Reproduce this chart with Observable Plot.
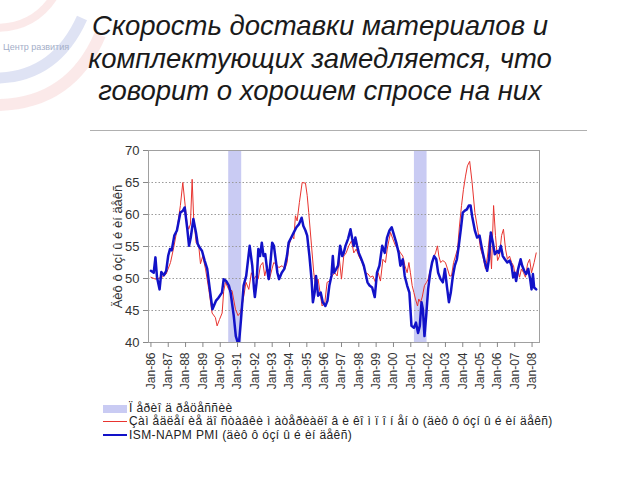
<!DOCTYPE html>
<html><head><meta charset="utf-8">
<script src="https://cdn.jsdelivr.net/npm/d3@7"></script>
<script src="https://cdn.jsdelivr.net/npm/@observablehq/plot@0.6"></script>
<style>
html,body{margin:0;padding:0;background:#fff;}
#page{position:relative;width:640px;height:480px;overflow:hidden;font-family:"Liberation Sans",Arial,sans-serif;}
#title{position:absolute;left:0;top:10px;width:640px;text-align:center;font-style:italic;font-size:27.5px;line-height:32.5px;color:#1a1a1a;}
#rule{position:absolute;left:90px;top:130px;width:497px;height:1px;background:#b0b0b0;}
#chart{position:absolute;left:0;top:135px;}
#legend{position:absolute;left:103px;top:402px;font-size:12px;letter-spacing:0.4px;color:#222;}
.row{height:13.3px;line-height:13.3px;white-space:nowrap;display:flex;align-items:center;}
.sw{width:24px;margin-right:2px;display:inline-block;}
#logo{position:absolute;left:0;top:0;}
</style></head>
<body><div id="page">
<svg id="logo" width="110" height="120" viewBox="0 0 110 120">
  <path d="M-5,28 Q35,28 55,-5" fill="none" stroke="#e87878" stroke-width="8" opacity="0.16"/>
  <path d="M-5,78 Q55,78 82,18" fill="none" stroke="#5e72c8" stroke-width="11" opacity="0.2"/>
  <path d="M-5,105 Q70,105 100,35" fill="none" stroke="#e87878" stroke-width="12" opacity="0.16"/>
  <text x="3" y="50" font-size="9" fill="#a4aec8" font-family="Liberation Sans, Arial">Центр развития</text>
</svg>
<div id="title"><div>Скорость доставки материалов и</div><div>комплектующих замедляется, что</div><div>говорит о хорошем спросе на них</div></div>
<div id="rule"></div>
<div id="chart"></div>
<div id="legend"></div>
</div>
<script>
// ---- data ----
const yTicks = [40, 45, 50, 55, 60, 65, 70];
const xTickYears = d3.range(1986, 2009);
const yLabel = "Äèô ô óçí û é èí äåêñ";
const legendLabels = [
  "Ï åðèî ä ðåöåññèè",
  "Çàì åäëåí èå äî ñòàâêè ì àòåðèàëî â è êî ì ï î í åí ò (äèô ô óçí û é èí äåêñ)",
  "ISM-NAPM PMI  (äèô ô óçí û é èí äåêñ)"
];
const recessionStart = [1990.49, 2001.21];
const recessionEnd = [1991.24, 2001.94];

// ISM-NAPM PMI [year, value]
const pmiSeries = [
[1986.00,51.2],[1986.16,50.9],[1986.26,53.3],[1986.35,50.2],[1986.50,48.3],[1986.60,51.0],[1986.75,50.5],[1986.88,51.2],
[1987.00,53.6],[1987.10,54.6],[1987.20,54.4],[1987.35,56.7],[1987.50,57.5],[1987.70,60.3],[1987.85,60.6],[1987.95,61.1],
[1988.10,57.7],[1988.20,55.1],[1988.30,56.4],[1988.45,59.3],[1988.60,57.2],[1988.70,55.4],[1988.80,54.9],[1988.95,54.3],
[1989.10,52.8],[1989.25,51.5],[1989.40,48.3],[1989.55,45.2],[1989.75,46.5],[1989.90,47.0],
[1990.10,47.8],[1990.20,49.9],[1990.35,49.6],[1990.50,48.9],[1990.60,47.8],[1990.78,44.2],[1990.90,41.0],
[1991.07,39.5],[1991.20,43.6],[1991.35,48.9],[1991.50,50.4],[1991.70,55.1],[1991.85,52.0],[1991.95,48.4],
[1992.00,47.1],[1992.10,49.4],[1992.20,54.6],[1992.30,53.5],[1992.40,55.6],[1992.50,53.5],[1992.60,53.8],[1992.70,51.5],[1992.80,49.9],[1992.90,52.5],
[1993.00,55.6],[1993.10,55.1],[1993.20,53.0],[1993.30,50.9],[1993.40,49.9],[1993.55,50.9],[1993.70,51.5],[1993.85,53.5],[1993.95,55.6],
[1994.10,56.4],[1994.25,57.2],[1994.40,58.0],[1994.55,58.5],[1994.70,59.5],[1994.80,58.2],[1994.92,57.5],
[1995.02,56.7],[1995.15,53.5],[1995.27,49.9],[1995.35,46.3],[1995.45,47.8],[1995.53,50.4],[1995.65,47.3],[1995.80,47.8],[1995.92,46.3],
[1996.07,45.7],[1996.19,46.5],[1996.30,48.9],[1996.42,50.4],[1996.50,53.5],[1996.57,50.9],[1996.70,51.5],[1996.80,52.0],[1996.92,55.1],
[1997.04,53.5],[1997.13,54.0],[1997.23,55.1],[1997.38,56.2],[1997.52,57.7],[1997.62,56.2],[1997.71,55.1],[1997.80,56.4],[1997.90,55.1],
[1998.00,54.0],[1998.15,53.0],[1998.29,52.0],[1998.38,50.9],[1998.50,49.4],[1998.62,48.9],[1998.77,48.6],[1998.92,47.1],
[1999.05,50.9],[1999.19,52.0],[1999.35,55.1],[1999.50,54.0],[1999.63,56.4],[1999.77,57.5],[1999.90,58.0],
[2000.02,56.9],[2000.16,55.6],[2000.30,54.0],[2000.40,52.0],[2000.54,53.0],[2000.65,50.4],[2000.79,48.9],[2000.92,47.8],
[2001.04,42.6],[2001.18,42.3],[2001.30,43.1],[2001.42,41.5],[2001.52,42.6],[2001.62,46.3],[2001.70,45.2],[2001.79,41.0],[2001.89,44.2],
[2002.00,48.3],[2002.12,50.9],[2002.23,52.5],[2002.35,53.5],[2002.47,53.0],[2002.58,50.9],[2002.72,49.9],[2002.85,49.4],[2002.97,51.5],
[2003.08,48.9],[2003.20,46.3],[2003.31,47.8],[2003.43,50.4],[2003.54,52.0],[2003.66,53.0],[2003.77,55.1],[2003.89,57.7],
[2004.00,60.3],[2004.12,60.6],[2004.24,60.8],[2004.35,61.4],[2004.45,61.4],[2004.55,59.6],[2004.70,57.5],[2004.83,56.4],[2004.97,56.7],
[2005.08,55.1],[2005.16,54.0],[2005.28,52.5],[2005.41,51.2],[2005.51,53.0],[2005.62,57.2],[2005.74,55.6],[2005.85,53.8],[2005.99,54.3],
[2006.08,54.0],[2006.20,55.1],[2006.31,53.5],[2006.43,53.0],[2006.57,52.5],[2006.70,52.8],[2006.82,52.0],[2006.91,50.2],
[2007.00,50.9],[2007.08,49.6],[2007.20,51.5],[2007.34,53.0],[2007.43,52.0],[2007.55,51.2],[2007.66,50.7],[2007.78,51.5],[2007.89,49.9],[2007.97,48.3],
[2008.05,50.7],[2008.12,48.6],[2008.24,48.3]
];

// Supplier deliveries (slowing) index [year, value]
const deliverySeries = [
[1986.00,50.2],[1986.26,49.9],[1986.64,50.2],[1986.88,50.7],[1987.13,52.5],[1987.32,54.9],[1987.51,57.7],[1987.70,61.4],[1987.84,65.0],[1987.95,62.1],
[1988.09,58.5],[1988.18,57.7],[1988.28,58.5],[1988.38,65.5],[1988.47,59.3],[1988.61,55.6],[1988.76,55.1],[1988.86,52.3],[1988.99,53.5],
[1989.15,51.5],[1989.34,48.3],[1989.53,44.6],[1989.72,43.9],[1989.82,42.6],[1989.96,43.6],[1990.11,44.6],[1990.20,48.0],
[1990.30,49.4],[1990.49,48.3],[1990.68,48.1],[1990.88,45.2],[1991.03,44.2],[1991.17,44.7],[1991.30,46.3],[1991.49,49.4],[1991.65,48.3],[1991.80,50.9],[1991.94,49.9],
[1992.07,50.4],[1992.19,49.9],[1992.32,52.0],[1992.46,52.5],[1992.57,50.4],[1992.71,52.0],[1992.84,49.9],[1992.99,51.5],
[1993.09,52.5],[1993.23,52.2],[1993.38,51.7],[1993.57,52.0],[1993.73,51.5],[1993.86,52.5],[1993.96,55.1],
[1994.15,56.7],[1994.25,56.2],[1994.34,59.8],[1994.44,59.0],[1994.57,61.9],[1994.73,65.0],[1994.92,64.9],
[1995.02,63.0],[1995.11,60.3],[1995.27,55.1],[1995.40,50.9],[1995.50,48.9],[1995.65,49.9],[1995.79,47.3],[1995.88,45.7],
[1996.04,46.3],[1996.17,49.4],[1996.31,49.6],[1996.46,50.4],[1996.61,50.9],[1996.75,50.4],[1996.88,53.0],
[1997.00,49.9],[1997.13,53.5],[1997.27,54.0],[1997.42,55.1],[1997.58,55.9],[1997.71,54.0],[1997.85,54.6],
[1998.00,53.5],[1998.19,52.5],[1998.38,50.9],[1998.54,50.7],[1998.67,50.2],[1998.81,50.4],[1998.96,49.4],
[1999.12,50.9],[1999.25,49.6],[1999.39,53.0],[1999.54,52.5],[1999.64,54.6],[1999.74,56.0],[1999.83,57.2],[1999.96,56.2],
[2000.12,55.1],[2000.27,54.6],[2000.41,54.0],[2000.54,53.5],[2000.66,52.0],[2000.79,50.9],[2000.89,52.5],[2000.98,50.9],
[2001.08,48.9],[2001.18,47.8],[2001.27,46.8],[2001.39,45.7],[2001.46,46.8],[2001.56,46.3],[2001.66,47.1],[2001.79,48.9],[2001.91,49.4],
[2002.00,49.9],[2002.14,51.5],[2002.27,53.0],[2002.43,54.0],[2002.54,55.1],[2002.62,53.5],[2002.72,52.5],[2002.85,52.8],
[2003.00,52.5],[2003.12,51.5],[2003.24,50.4],[2003.35,50.4],[2003.47,52.5],[2003.58,53.5],[2003.70,54.6],[2003.81,58.2],[2003.93,61.4],
[2004.04,63.9],[2004.16,66.0],[2004.27,67.6],[2004.40,68.3],[2004.54,65.0],[2004.70,60.3],[2004.89,57.2],
[2005.03,54.6],[2005.16,53.5],[2005.31,51.5],[2005.43,53.5],[2005.55,56.7],[2005.66,51.5],[2005.78,61.4],[2005.89,56.7],
[2006.01,52.8],[2006.12,53.5],[2006.24,56.7],[2006.35,57.7],[2006.47,54.6],[2006.58,53.0],[2006.70,53.5],[2006.82,52.5],[2006.93,52.0],
[2007.05,50.2],[2007.16,51.5],[2007.28,50.2],[2007.39,51.5],[2007.51,50.9],[2007.62,50.2],[2007.74,52.3],[2007.86,53.0],[2007.97,50.9],
[2008.12,52.5],[2008.24,54.0]
];

// ---- tables ----
const pmi = pmiSeries.map(([year, value]) => ({year, value}));
const deliveries = deliverySeries.map(([year, value]) => ({year, value}));
const recessions = recessionStart.map((s, i) => ({start: s, end: recessionEnd[i]}));
const gridValues = yTicks.slice(1, -1);

const colors = {recession: "#c9cbf3", delivery: "#e8342f", pmi: "#1212c8"};

const chart = Plot.plot({
  width: 640,
  height: 270,
  marginLeft: 148,
  marginRight: 101,
  marginTop: 15,
  marginBottom: 63,
  style: {fontFamily: "Liberation Sans, Arial, sans-serif", fontSize: "12px", color: "#333", background: "transparent"},
  x: {domain: [1985.86, 2008.43]},
  y: {domain: [yTicks[0], yTicks[yTicks.length - 1]]},
  marks: [
    Plot.rect(recessions, {x1: "start", x2: "end", y1: yTicks[0], y2: yTicks[yTicks.length - 1], fill: colors.recession}),
    Plot.ruleY(gridValues, {stroke: "#9a9a9a", strokeDasharray: "1.5,2"}),
    Plot.line(deliveries, {x: "year", y: "value", stroke: colors.delivery, strokeWidth: 1, clip: true}),
    Plot.line(pmi, {x: "year", y: "value", stroke: colors.pmi, strokeWidth: 2.5, clip: true, strokeLinejoin: "round"}),
    Plot.frame({stroke: "#a0a0a0"}),
    Plot.axisY({ticks: yTicks, tickSize: 5, tickPadding: 4, stroke: "#888", fontSize: 13, label: yLabel, labelAnchor: "center", labelArrow: "none", labelOffset: 36}),
    Plot.axisX({ticks: xTickYears, tickFormat: d => "Jan-" + String(d).slice(2), tickRotate: -90, tickSize: 5, tickPadding: 5, stroke: "#888", fontSize: 12, label: null})
  ]
});
document.getElementById("chart").appendChild(chart);

// ---- legend ----
const legend = document.getElementById("legend");
const swatches = [
  `<span class="sw" style="height:8px;background:${colors.recession}"></span>`,
  `<span class="sw" style="height:1px;background:${colors.delivery}"></span>`,
  `<span class="sw" style="height:2px;background:${colors.pmi}"></span>`
];
legendLabels.forEach((t, i) => {
  const row = document.createElement("div");
  row.className = "row";
  row.innerHTML = swatches[i] + `<span>${t}</span>`;
  legend.appendChild(row);
});
</script>
</body></html>
